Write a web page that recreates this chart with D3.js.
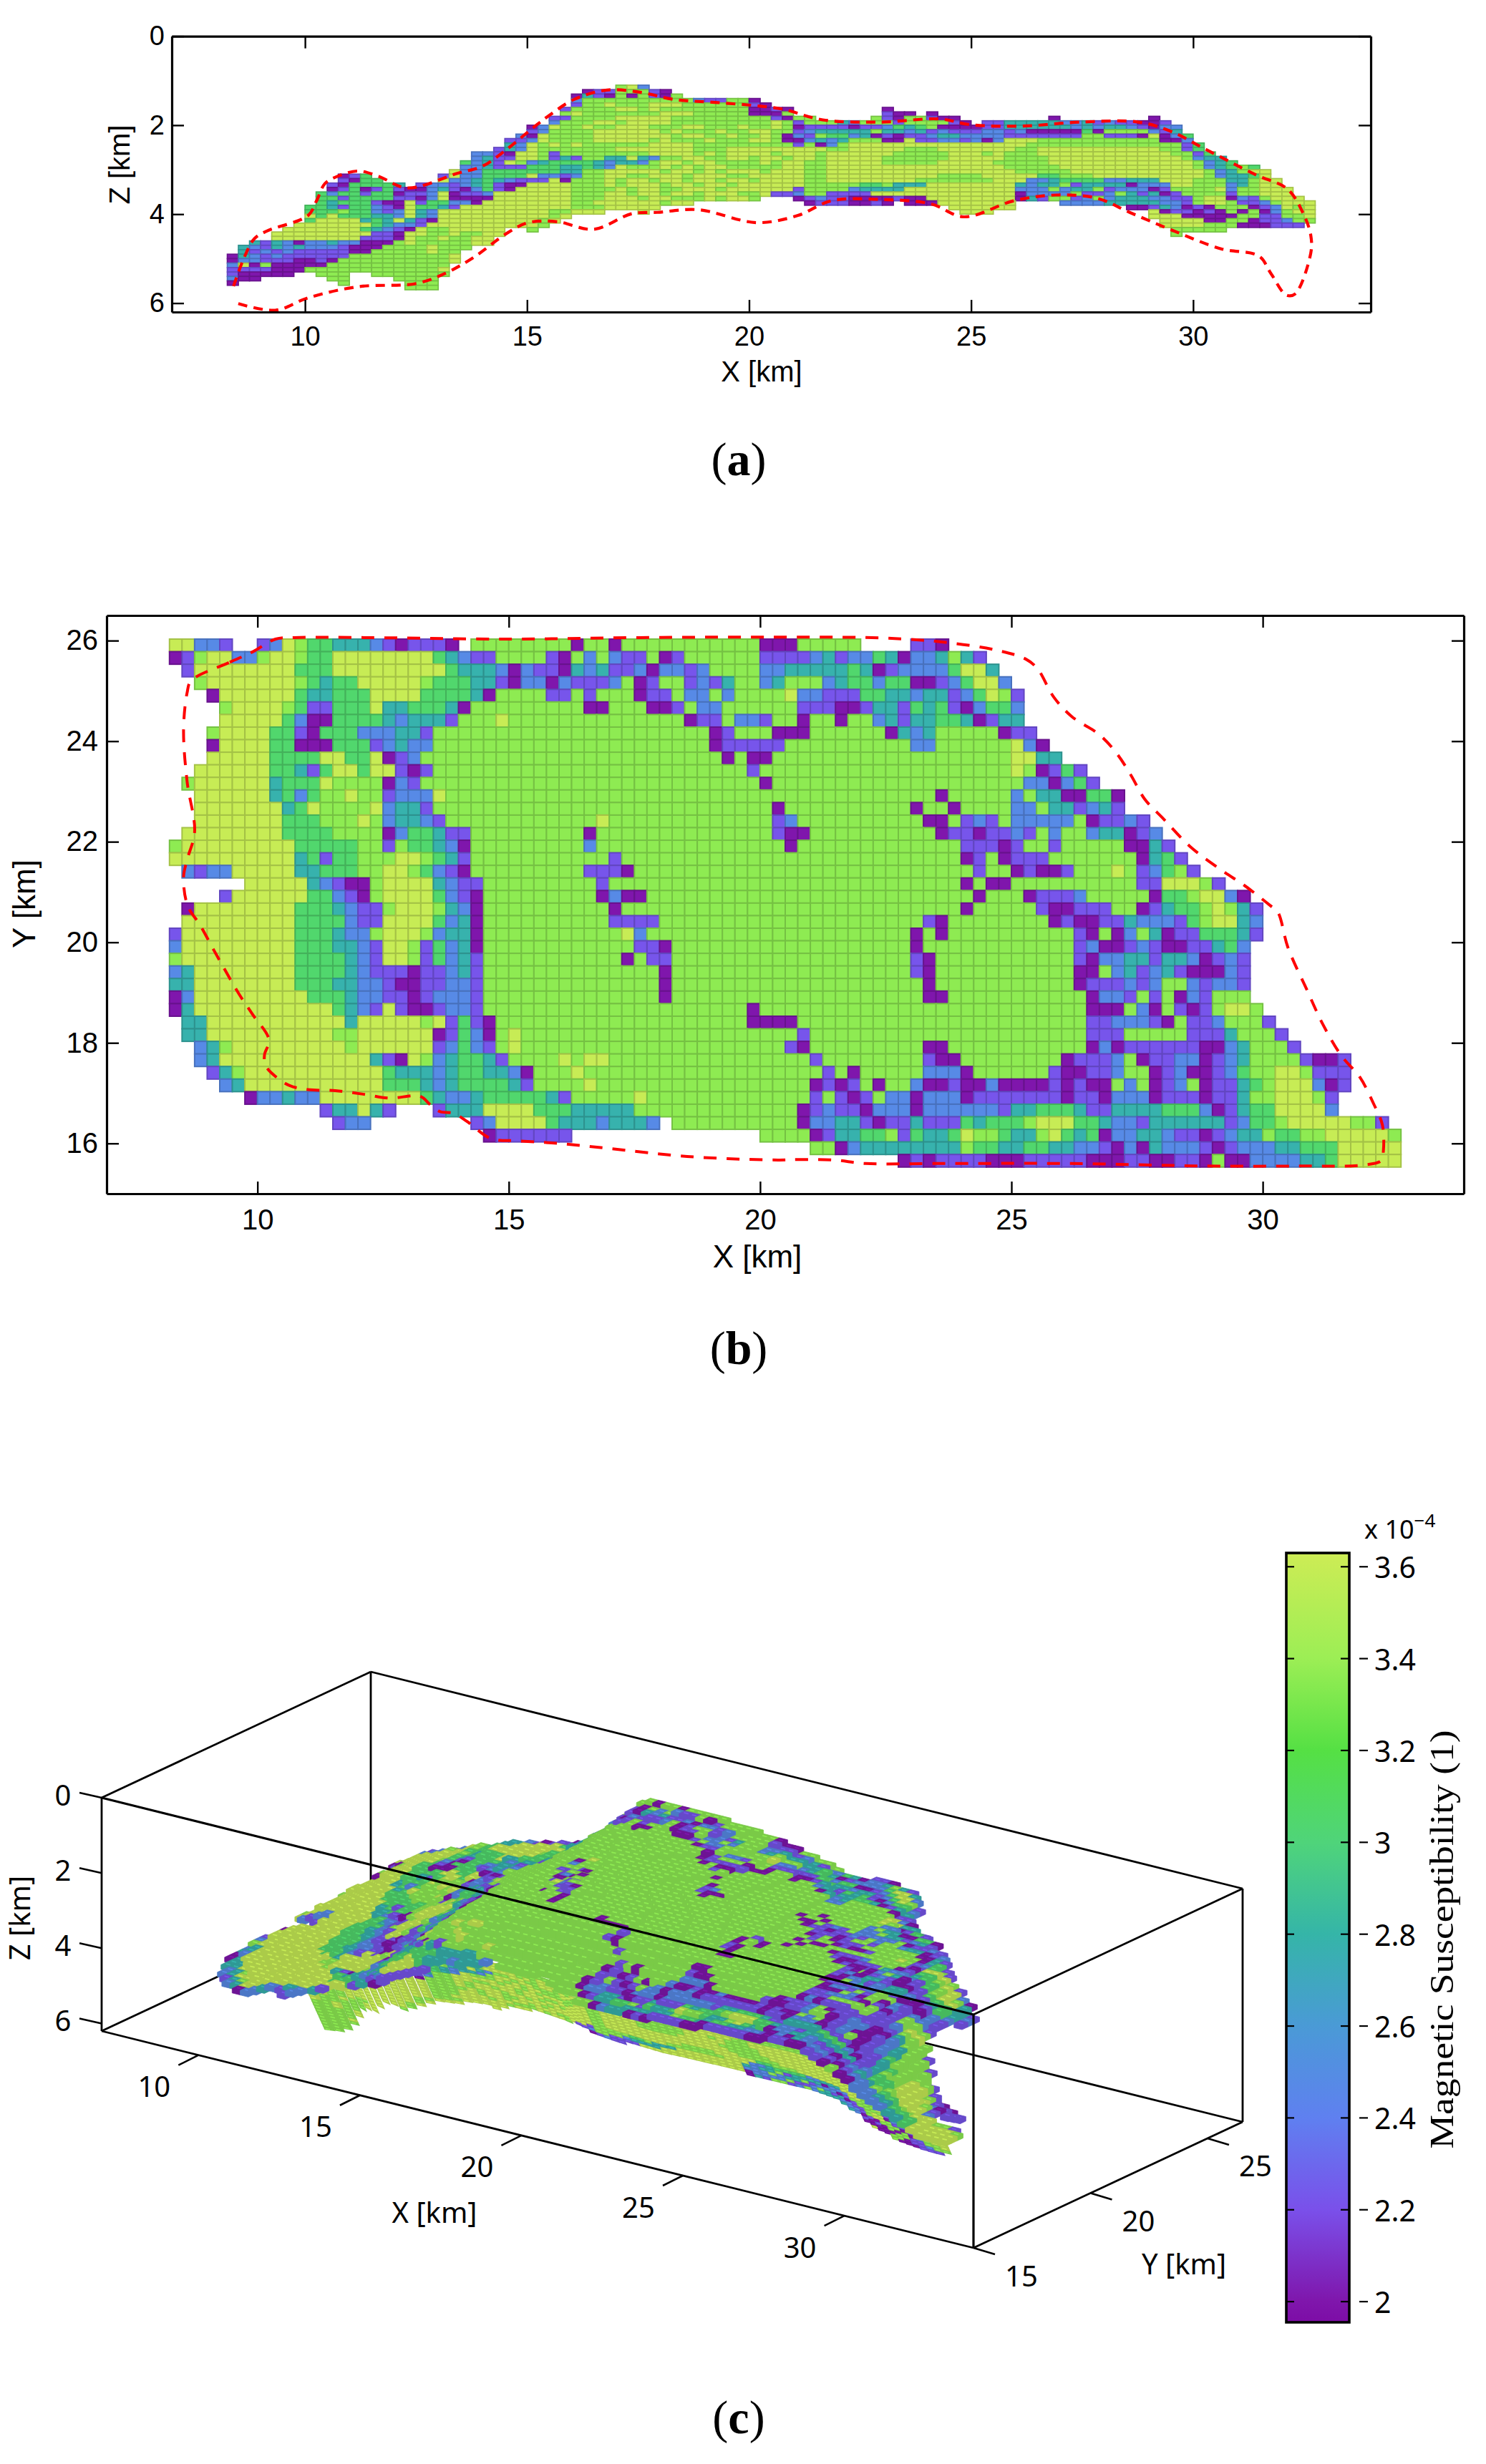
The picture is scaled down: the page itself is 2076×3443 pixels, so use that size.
<!DOCTYPE html>
<html><head><meta charset="utf-8">
<style>html,body{margin:0;padding:0;background:#fff}svg{display:block}</style>
<script src="https://cdn.jsdelivr.net/npm/d3@7"></script></head><body>
<div id="chart"></div>
<script>
// ---------- value levels ----------
const levelCodes  = ['p','v','b','t','m','g','y'];
const levelValues = [2.0,2.22,2.48,2.78,3.05,3.36,3.6];
const cbValues = [1.955,2,2.2,2.4,2.6,2.8,3,3.2,3.4,3.63];
const cbColors = ['#7d0ca6','#7f16ac','#7a50ea','#5f80f0','#4a9ad6','#35b5a8','#4fd47a','#55e044','#9cee55','#cdec55'];
const cbTicks = [2,2.2,2.4,2.6,2.8,3,3.2,3.4,3.6];
const xTicks = [10,15,20,25,30];
const zTicks = [0,2,4,6];
const yTicks = [16,18,20,22,24,26];
const cYTicks = [15,20,25];

// ---------- cross-section X-Z: one row per 0.1 km of depth from 1.1 km ----------
const sectionRows = [
"35:gyb",
"32:p2v3gvp",
"31:ptvpgpgvpg",
"31:b10gb2v2gp",
"31:v2gy3g3y6gvp",
"30:v4g2ygy8g2pvp 59:p",
"30:gy7g3y5g3pg 59:v2p.p",
"29:2v4g5y9gvp2g 58:gvp2gv2p 74:p 83:p",
"29:b3g2yg4y9gygv3gtb3gv4gvp.2v5t2btvb2v2pv",
"27:pby2gy2g3y3g2y3gy2gygp4vp2vbmtmg4p2v6tbtb2tbvp2b",
"27:vb4g6ygy3gy2g2y2gvb5tg2tbtvb3v2bvb5pmp4gbvt",
"26:bpy4g7yg2y2gy2gygpbvg2mbtpvp2vb2t4b7v2g3vpypbm",
"25:2vby4g5ygy3gy3g2yg2pbtbt3g2py2v2bvbpb3y11g2pb",
"25:tbygygy6g4y7g2gvgpbg16yg11g2gvm",
"24:vtby7g7y3g4y5y2g5y3g7y2g11y2gvm",
"22:2bvp2ygv8g4ygyg4yg3yg6y5g3ygy3g12y2gvm",
"22:bt2v2ygvtv2g2tytb2g2y2g2ygyyg2yg5y6g5y4g12ygb2t",
"21:mbtvygbt4mtb2tbg2yg2y4gyg2y2g5y5g5y5g13ygbtm",
"21:2bt3v3m2tmtby3gygyg2y5g2y2g16y5g12ygbtmgm",
"20:y2b7m2t2g5yg2ygyg3yg3y2g17y5g12ygbtg2y",
"10:pvm6.vy2b2m2my2bvb2g2y2g3yg3y2g2y3y2g10y4g5y2m3g10ygb2tmy",
"10:vp2m5.y2btmtb3vyp3gyg2yg2yg2yg2ygy3y2g8y7g3y2bt4m2b3t3y3g2tg2y",
"9:vp4mt.v2bvbtmv2p4y3gyg3yg2yg2yg3y3y5g2mg3t8ytb2tgv4tp3b2y3gbtg2y",
"9:pvmpvmv2pbtvpbmvp5y4gyg2y2gy2yg4y2yv4gb4t10y3bgb2tgv3bpv4gyb2g3y",
"8:mb2mv2mp2vbyp2vb7y3g2yg2yg2yg3y2gy2vb2g4v13yp4bg2vbgtvtpv4gv2g3y",
"8:2mv4m2vpby4p7y3g3yg2y2ggyg2yg3.pvb2v4pv2p8yptv2gvbgb3t2b2vg2ypbvg3y",
"8:mt3mv2pyv2m2bpy7y2g6yg2y10.p3v2pvp.3p7y4.4b5t2bvg2yg2vbg3y",
"7:2mtv2mbvpy2mtv3y 24:7y3g5y 65:6y 81:2pvtbpvp3gpvbygy",
"7:3mg2mbvbytb5y 24:5y2g 31:3y 37:y 66:3y 83:yp2vpvpgpgpbg2y",
"7:ymy3m2tbytb5y 24:5ygy 83:3y5p2g2v2gy",
"7:m4ytmtytvp5y 24:4ygy 84:4y2p2gp2vb2g",
"6:7ymt2bvy5y 24:4yg 84:4y3g3p3v",
"5:7ymtbvpy2g4y 24:y 27:g 85:5g",
"4:9y2vp2y2gy2g2y 85:g",
"4:8y3vpy2gy2g2y",
"2:tvtbp2bt2b3pgy5g2y",
"1:tbvtbt3bv3p4gy3g",
"1:tvbvb5v2p5gy2g",
"0:ptbvb6v9gy",
"0:p2b3v2pvp10gy",
"0:bypg5p11g",
"0:4v3p12gy",
"0:v5p2.3g2.7g",
"0:b2p 9:2g 15:4g",
"0:p 10:g 16:3g",
"16:3g"];

// ---------- plan view X-Y: one row per 0.25 km of Y from the north ----------
const planRows = [
"0:2y2bv 7:vbyg2m3tbvp3vp 24-54g 32:p 35:p 47:3p 59:2vp",
"0:pvg2y2bg2yg2m8ymtb2v 26-46g 30:vp 33:b 35:b2v 39:pv 47:4vbtv2bmtp2btgtv",
"1:v8y3m9ym3tbpb2vptbt2vbp2bvb4g2b5tmtpv4bm2yt",
"2:g7ygmt2m5yg3m2tvp2bpb3vbgpv2gvbvt2gbt3gbt2mb2m2pvbm2yb",
"3:p6ym2t3m4y4mtp4g2vgv3gp2vg2bgb4gy2b3v2m2tb2tvbmygv",
"4:g4ygm2v3my2t3mtp9g2p3g2pvg2b6g3v2pv2tvmtmvpb2mb",
"4:5ymb2p4mtb3tv3gy14gp2vg2bv2gp2gp2gbtv2t2mtpv2t",
"3:g4y2mvp3m3b2tv22gpv3g3p6gptbt5gp2v",
"3:p4y2m3p3mvbt2b22gp5v10g2b6gybp",
"3:5y4m2y2mypvb24gpg2p19g2y2t",
"2:6y2mtvm2ym2yvpv25gv20gygpvmv",
"1:g6yt3my4gpbv27gp20g2bpbmv",
"2:6ytmbm2gy2gv3by39gp5gbg2t2p2mp",
"2:7ytmy4gyb2tv27gp10gp2gp4g2bg2tvbtv",
"2:7y3m3gygb2tbv12gy13gvb10g2pgvbvg5bgp2vbv",
"1:8y4m4gpb2mt2v9gp14gv2p10gp2vp2vbvgb2gb2tpvb",
"0:g9y5m2gvg2mtbp9gb15gp13g3vpv2gv5g2ptv",
"0:10ytmv2m3g2ygmtv11gv27gpvgp3v7gptmv",
"1:bv2b5y2t3m2g2ygmbvp9g3vp27gv2gpv2pv3gygvbmgv",
"6:5ytbv2pg4ytb2v9gv28gpg2p10g2v3ygv",
"4:v6y2mbvpg4ymbvp9gpb2p26gp3gp3vb5gp2mg2ybp",
"1:p8y3mtb2vg3ygtbp10gp27gp5gv2p3v2gpvt2mgygtv",
"1:9y4mb2v4ymbtp10g4v21gvp8gpv2p2vt3bvmg2ytb",
"0:v9y3mt2bg3ygb2tp11gyb21gpgp10gvpgpbgtp2v3mtv",
"0:b9y3m2tbv2ygvmbtp12g2vp19gp12gvb2pvbv2p2vtmb",
"0:g9y4mtbv2ygvmbtv11gpg2v19gvp11gvp2b2tv2tbpvbv",
"0:bt8y4mtb3vp2vbtv14gp19gvp11g2pgbtvbtv3pbv",
"0:2t8y3m2t2bv2p2v2bv14gp20gp11gp3vbvb2gbv2bv",
"0:pb9y3mt2b2vpv3bv14gp20g2p11gp2bvgvgpbv3g",
"0:pt11ymtbvyv2pv2bv21gp26g3pgbpgvpvg2yg",
"1:2t11yt5ygyvmvp20g4p23g2v3bvpg2vb3gv",
"1:2t10y2g6ypvmbpgy22gv22g3v5g3vt3gv",
"2:btg9yg6yvbmbvgy21gvp9g2p11gpbp6v2pbt3gv",
"2:bt12ytvpygbt2mtv4gyg2y16gv8gv2p8gp3vbgp2v2bpvbt4gv2pv",
"3:vtg11ym3tbt2m2tbp3gy19gvgp5g3bp6gv2p2vb2gpvb2pvbm2g2yg3v",
"4:bt11y3mtbt4mtv4gy17gpvpvgp2gb2pv2pb4pvpv2pgbgpvbgp2vtmg3ybpv",
"6:p2bt2b8ymt2bt5mtv5gy13gvgvpvg2bp3bp7vp2vp3bp3vp2vt2g3ygv",
"12:v2tytv 21:v3t4y3m5t13gpvb2vp3bp3b3bv2t3mt2v4t3mbpvt2m4yb",
"13:v2b 24:vb4ym3tb3tb 40:10gp2b2tvp2vt3vmt3mg3y2mt2bv6tvb2mg5y2gv",
"25:p6v 47:4gpv2t2mgvm2tmy2gm2tgymtmp2b2tb2vpvb2tg2m2g5yg",
"51:2gpb8tg2m2t2m2t2bvpbpt3bvpv3b2t3m5y",
"58:pvp4v3p5v3p2v2p2vpg2p4b2tm5y"];

// ---------- dashed body outline ----------
const planOutlineX = [8.68,9.45,9.91,10.36,10.73,12.18,14.9,17.6,20.6,22.47,23.65,24.75,25.29,25.52,25.84,26.2,26.75,27.1,27.38,27.65,28.02,28.56,29.2,29.65,30.15,30.3,30.5,30.88,31.2,31.56,31.93,32.2,32.38,32.4,32.36,32.0,30.75,28.93,26.2,23.47,22.1,21.47,20.75,20.36,18.55,17,16,15.18,14.64,14.18,13.9,13.64,13.45,13.23,12.63,12.1,11.55,11,10.64,10.36,10.16,10.14,10.23,9.9,9.64,9.36,9.14,8.86,8.61,8.53,8.6,8.75,8.6,8.53,8.6];
const planOutlineY = [25.2,25.57,25.78,26.03,26.06,26.06,26.03,26.06,26.07,26.05,25.97,25.8,25.63,25.44,24.88,24.49,24.13,23.75,23.32,22.85,22.46,21.9,21.42,21.12,20.73,20.6,19.9,19.05,18.36,17.75,17.32,16.8,16.37,15.85,15.66,15.57,15.55,15.55,15.6,15.6,15.6,15.67,15.68,15.67,15.74,15.9,16,16.05,16.1,16.43,16.6,16.63,16.76,16.94,16.9,16.98,17.05,17.07,17.15,17.33,17.55,17.76,18.06,18.57,18.96,19.44,19.83,20.34,20.73,21.3,21.64,22.2,23.2,24.23,24.96];
const sectionOutlineX = [8.39,8.62,8.86,9.14,10.07,10.26,10.45,10.73,11.2,11.66,12.3,13.44,14,14.56,15.12,15.5,16.06,16.8,17.55,18.3,19.4,20.7,21.66,22.97,24.28,25,26.15,27.46,28.77,29.5,30.26,31.4,32.13,32.5,32.65,32.65,32.3,32.1,31.75,31.48,30.63,29.5,28.57,27.83,26.9,25.96,24.84,24.1,22.97,21.85,21.1,20.17,18.86,17.93,17.36,16.5,15.68,15.03,14.56,13.8,13.16,12.5,11.2,10.07,9.33,8.39];
const sectionOutlineZ = [5.62,5.0,4.55,4.38,4.03,3.7,3.31,3.15,3.03,3.15,3.41,3.08,2.92,2.53,2.07,1.78,1.42,1.21,1.26,1.42,1.5,1.63,1.88,1.93,1.86,1.99,2.02,1.93,1.93,2.14,2.53,3.11,3.44,4.03,4.48,4.87,5.79,5.82,5.33,4.94,4.78,4.35,3.96,3.64,3.57,3.7,4.06,3.77,3.67,3.7,4.03,4.19,3.9,3.96,3.99,4.34,4.17,4.19,4.42,4.97,5.33,5.56,5.63,5.88,6.16,5.98];

// ---------- top-surface depth of the body for the 3-D view ----------
const depthX = [8,10,12,13,14,15,16,18,20,22,24,26,28,29,30,31,32];
const depthY = [26,24,22,20,18,17,16];
const depth26 = [4.7,3.9,3.3,3.1,2.9,2.2,1.3,1.3,1.5,1.9,1.9,2.0,2.0,2.0,2.2,2.8,3.3];
const depth24 = [4.8,3.8,3.4,3.2,3.0,2.4,1.7,1.5,1.6,1.8,1.9,2.0,1.9,2.0,2.2,2.8,3.3];
const depth22 = [4.9,4.1,3.8,3.4,3.0,2.5,1.8,1.6,1.7,1.8,1.9,1.9,1.9,2.1,2.5,3.0,3.4];
const depth20 = [5.0,4.5,3.95,3.6,3.2,2.6,1.8,1.4,1.5,1.7,1.9,1.9,1.8,2.1,2.7,3.2,3.6];
const depth18 = [5.1,4.9,4.2,4.1,3.6,2.8,2.0,1.6,1.5,1.6,1.8,1.9,1.9,2.3,2.9,3.8,4.2];
const depth17 = [5.2,5.0,4.4,4.2,3.8,3.0,2.4,2.1,2.1,2.3,2.1,2.1,2.1,2.5,3.1,3.6,3.9];
const depth16 = [5.3,5.1,4.5,4.3,3.95,3.4,3.0,2.6,2.5,2.6,2.4,2.3,2.2,2.5,3.0,3.5,3.8];
// deepest part of the near side that is still visible in the 3-D view
const wallLimitX = [12,16,18,20,22,24,26,28,29,30,31,33];
const wallLimitZ = [5.8,4.4,3.9,3.7,3.6,3.55,3.6,3.65,3.7,4.1,4.3,4.3];
const wallFirstCol = 16;

// ---------- helpers ----------
function parseGrid(rows){
  const out=[];
  rows.forEach((line,r)=>{
    const m=new Map();
    line.trim().split(/\s+/).forEach(tok=>{
      const range=tok.match(/^(\d+)-(\d+)([a-z])$/);
      if(range){for(let c=+range[1];c<=+range[2];c++)m.set(c,range[3]);return;}
      const [s,body]=tok.split(':');
      if(body===undefined) return;
      let c=+s;
      for(const g of body.matchAll(/(\d*)([a-z.])/g)){
        const n=g[1]?+g[1]:1;
        for(let i=0;i<n;i++){ if(g[2]!=='.')m.set(c,g[2]); c++; }
      }
    });
    m.forEach((code,c)=>{ if(c<98) out.push({r,c,code}); });
  });
  return out;
}
const levelScale=d3.scaleOrdinal(levelCodes,levelValues);
const colorScale=d3.scaleLinear(cbValues,cbColors).interpolate(d3.interpolateRgb);
const colorOf=d=>colorScale(levelScale(d.code));
const colLeft=c=>8.25+0.25*c;

const W=2076,H=3443;
const svg=d3.select('#chart').append('svg').attr('width',W).attr('height',H).attr('viewBox',`0 0 ${W} ${H}`)
  .style('background','#fff');
const SANS='"Liberation Sans",Arial,sans-serif', NOTO='"Noto Sans",sans-serif', SERIF='"Liberation Serif",serif';

function frame(g,x,y,xv,yv,opt){
  const [L,R]=x.range(),[B,T]=y.range();
  const a=[
    ['b',d3.axisBottom(x).tickValues(xv).tickFormat(d3.format('d')).tickSizeInner(-opt.tick).tickSizeOuter(0).tickPadding(opt.padX),`translate(0,${B})`],
    ['t',d3.axisTop(x).tickValues(xv).tickSizeInner(-opt.tick).tickSizeOuter(0).tickFormat(''),`translate(0,${T})`],
    ['l',d3.axisLeft(y).tickValues(yv).tickFormat(d3.format('d')).tickSizeInner(-opt.tick).tickSizeOuter(0).tickPadding(opt.padY),`translate(${L},0)`],
    ['r',d3.axisRight(y).tickValues(yv).tickSizeInner(-opt.tick).tickSizeOuter(0).tickFormat(''),`translate(${R},0)`]];
  a.forEach(([k,ax,t])=>{
    const s=g.append('g').attr('transform',t).call(ax);
    s.selectAll('path').attr('stroke','#000').attr('stroke-width',3.2);
    s.selectAll('line').attr('stroke','#000').attr('stroke-width',2.4);
    s.selectAll('text').attr('font-family',SANS).attr('font-size',opt.font).attr('fill','#000');
  });
}
function axisTitle(x,y,txt,font,size,rot){
  const t=svg.append('text').attr('text-anchor','middle').attr('font-family',font).attr('font-size',size)
    .attr('dominant-baseline','middle').text(txt);
  t.attr('transform',`translate(${x},${y})`+(rot?` rotate(${rot})`:''));
  return t;
}
function caption(letter,y){
  const t=svg.append('text').attr('x',1032).attr('y',y).attr('text-anchor','middle').attr('font-family',SERIF).attr('font-size',66);
  t.append('tspan').text('(');
  t.append('tspan').attr('font-weight','bold').text(letter);
  t.append('tspan').text(')');
}
const dark=(c,k)=>d3.color(c).darker(k).formatHex();

// ---------- panel (a) ----------
const secCells=parseGrid(sectionRows);
const ax=d3.scaleLinear([7,34],[240,1915]);
const az=d3.scaleLinear([6.2,0],[436,50.6]);
const ga=svg.append('g');
ga.append('g').selectAll('rect').data(secCells).join('rect')
  .attr('x',d=>ax(colLeft(d.c))).attr('width',ax(7.25)-ax(7))
  .attr('y',d=>az(1.1+0.1*d.r)).attr('height',az(0.1)-az(0))
  .attr('fill',colorOf).attr('stroke',d=>dark(colorOf(d),0.55)).attr('stroke-width',1.7);
ga.append('path').datum(d3.range(sectionOutlineX.length))
  .attr('d',d3.line().x(i=>ax(sectionOutlineX[i])).y(i=>az(sectionOutlineZ[i])).curve(d3.curveCatmullRom))
  .attr('fill','none').attr('stroke','#ff0000').attr('stroke-width',4.2).attr('stroke-dasharray','13 9');
frame(ga,ax,d3.scaleLinear([6.2,0],[436,50.6]),xTicks,zTicks,{tick:17,padX:20,padY:10,font:38});
axisTitle(1064,522,'X [km]',SANS,40);
axisTitle(170,230,'Z [km]',SANS,40,-90);
caption('a',664);

// ---------- panel (b) ----------
const planCells=parseGrid(planRows);
const bx=d3.scaleLinear([7,34],[149,2045]);
const by=d3.scaleLinear([15,26.5],[1668,860]);
const gb=svg.append('g');
gb.append('g').selectAll('rect').data(planCells).join('rect')
  .attr('x',d=>bx(colLeft(d.c))).attr('width',bx(7.25)-bx(7))
  .attr('y',d=>by(26.03-0.25*d.r)).attr('height',by(0)-by(0.25))
  .attr('fill',colorOf).attr('stroke',d=>dark(colorOf(d),0.55)).attr('stroke-width',2);
gb.append('path').datum(d3.range(planOutlineX.length))
  .attr('d',d3.line().x(i=>bx(planOutlineX[i])).y(i=>by(planOutlineY[i])).curve(d3.curveCatmullRomClosed))
  .attr('fill','none').attr('stroke','#ff0000').attr('stroke-width',4).attr('stroke-dasharray','18 14');
frame(gb,bx,by,xTicks,yTicks,{tick:17,padX:22,padY:12,font:40});
axisTitle(1058,1759,'X [km]',SANS,44);
axisTitle(37,1263,'Y [km]',SANS,44,-90);
caption('b',1906);

// ---------- panel (c): oblique box ----------
const pxX=d3.scaleLinear([7,34],[142,1360]), pxY=d3.scaleLinear([15,26.5],[0,376]);
const pyX=d3.scaleLinear([7,34],[2512,2815]), pyY=d3.scaleLinear([15,26.5],[0,-176]), pyZ=d3.scaleLinear([0,6.2],[0,326]);
const proj=(X,Y,Z)=>[pxX(X)+pxY(Y),pyX(X)+pyY(Y)+pyZ(Z)];
const gc=svg.append('g');
const edge=(p,q,w)=>gc.append('line').attr('x1',p[0]).attr('y1',p[1]).attr('x2',q[0]).attr('y2',q[1])
  .attr('stroke','#000').attr('stroke-width',w||2.8);
const [X0,X1,Y0,Y1,Z0,Z1]=[7,34,15,26.5,0,6.2];
// edges behind the body
edge(proj(X0,Y0,Z0),proj(X0,Y1,Z0));
edge(proj(X0,Y1,Z0),proj(X1,Y1,Z0));
edge(proj(X0,Y1,Z0),proj(X0,Y1,Z1));
edge(proj(X0,Y0,Z1),proj(X0,Y1,Z1));
edge(proj(X0,Y1,Z1),proj(X1,Y1,Z1));
edge(proj(X1,Y1,Z0),proj(X1,Y1,Z1));
edge(proj(X1,Y0,Z1),proj(X1,Y1,Z1));
edge(proj(X1,Y0,Z0),proj(X1,Y1,Z0));
edge(proj(X0,Y0,Z0),proj(X0,Y0,Z1));
edge(proj(X0,Y0,Z1),proj(X1,Y0,Z1));

const depthTable=[depth26,depth24,depth22,depth20,depth18,depth17,depth16];
const depthRows=depthTable.map(row=>d3.scaleLinear(depthX,row).clamp(true));
function depthAt(X,Y){
  const col=depthRows.map(s=>s(X));
  return d3.scaleLinear(depthY,col).clamp(true)(Y);
}
const poly=pts=>pts.map(p=>p.map(v=>v.toFixed(1)).join(',')).join(' ');
const quant=z=>Math.round(z*10)/10;
const wallLimit=d3.scaleLinear(wallLimitX,wallLimitZ).clamp(true);

// near side: section cells below the surface rim, following the plan's near edge
const frontRow=d3.rollup(planCells,v=>d3.max(v,d=>d.r),d=>d.c);
const frontY=c=>d3.mean(d3.range(c-3,c+4).filter(k=>frontRow.has(k)),k=>26.03-0.25*frontRow.get(k)-0.25);
const wallSlope=0.6;
const wallCells=secCells.map(d=>{
  if(!frontRow.has(d.c)||d.c<wallFirstCol) return null;
  const Xl=colLeft(d.c), Yf=frontY(d.c), Yg=frontY(d.c+1);
  const rim=depthAt(Xl+.125,Yf+.125), z=1.1+0.1*d.r;
  if(z<rim||z>wallLimit(Xl)) return null;
  return {...d,Xl,z,Yw:Yf+wallSlope*(z-rim),Yn:Yf+wallSlope*(z+.1-rim),dY:Yg-Yf};
}).filter(Boolean).sort((a,b)=>d3.ascending(a.c,b.c)||d3.descending(a.r,b.r));
const gw=gc.append('g');
gw.selectAll('polygon').data(wallCells).join('polygon')
  .attr('points',d=>poly([proj(d.Xl,d.Yw,d.z),proj(d.Xl+.25,d.Yw+d.dY,d.z),proj(d.Xl+.25,d.Yn+d.dY,d.z+.1),proj(d.Xl,d.Yn,d.z+.1)]))
  .attr('fill',d=>dark(colorOf(d),0.42)).attr('stroke',d=>dark(colorOf(d),0.42)).attr('stroke-width',1.6);
gw.selectAll('line').data(wallCells).join('line')
  .attr('x1',d=>proj(d.Xl+.06,d.Yw,d.z+.05)[0]).attr('y1',d=>proj(d.Xl+.06,d.Yw,d.z+.05)[1])
  .attr('x2',d=>proj(d.Xl+.2,d.Yw,d.z+.05)[0]).attr('y2',d=>proj(d.Xl+.2,d.Yw,d.z+.05)[1])
  .attr('stroke',colorOf).attr('stroke-width',1.6);

// top surface, far rows first; each block reaches down to its lowest neighbour
const surf=planCells.map(d=>{
  const Xl=colLeft(d.c),Yt=26.03-.25*d.r,Yb=Yt-.25;
  return {...d,Xl,Yt,Yb,Z:quant(depthAt(Xl+.125,Yb+.125))};
}).sort((a,b)=>d3.ascending(a.r,b.r)||d3.ascending(a.c,b.c));
const zIndex=new Map(surf.map(d=>[d.r*1000+d.c,d.Z]));
surf.forEach(d=>{
  const around=[d.r*1000+d.c-1,d.r*1000+d.c+1,(d.r+1)*1000+d.c].map(k=>zIndex.get(k)).filter(v=>v!==undefined);
  d.Zb=Math.max(d.Z+.12,...around);
  const A=proj(d.Xl,d.Yt,d.Z),B=proj(d.Xl+.25,d.Yt,d.Z),C=proj(d.Xl+.25,d.Yb,d.Z),E=proj(d.Xl,d.Yb,d.Z);
  const lo=[proj(d.Xl,d.Yt,d.Zb),proj(d.Xl+.25,d.Yt,d.Zb),proj(d.Xl+.25,d.Yb,d.Zb),proj(d.Xl,d.Yb,d.Zb)];
  d.hull=d3.polygonHull([A,B,C,E,...lo]);
});
const gs=gc.append('g');
const blocks=gs.selectAll('g').data(surf).join('g');
blocks.append('polygon')
  .attr('points',d=>poly(d.hull))
  .attr('fill',d=>dark(colorOf(d),0.42)).attr('stroke',d=>dark(colorOf(d),0.42)).attr('stroke-width',.8);
blocks.append('line')
  .attr('x1',d=>proj(d.Xl+.06,(d.Yt+d.Yb)/2,d.Z)[0]).attr('y1',d=>proj(d.Xl+.06,(d.Yt+d.Yb)/2,d.Z)[1])
  .attr('x2',d=>proj(d.Xl+.2,(d.Yt+d.Yb)/2,d.Z)[0]).attr('y2',d=>proj(d.Xl+.2,(d.Yt+d.Yb)/2,d.Z)[1])
  .attr('stroke',colorOf).attr('stroke-width',1.8);

// edges in front of the body
edge(proj(X0,Y0,Z0),proj(X1,Y0,Z0),3.2);
edge(proj(X1,Y0,Z0),proj(X1,Y0,Z1),3.2);

// 3-D ticks
const tickGroup=(vals,pt,dx,dy,lx,ly)=>{
  const s=gc.append('g').selectAll('g').data(vals).join('g');
  s.append('line').attr('x1',d=>pt(d)[0]).attr('y1',d=>pt(d)[1]).attr('x2',d=>pt(d)[0]+dx).attr('y2',d=>pt(d)[1]+dy)
    .attr('stroke','#000').attr('stroke-width',2.6);
  s.append('text').attr('x',d=>pt(d)[0]+lx).attr('y',d=>pt(d)[1]+ly).attr('text-anchor','middle').attr('dominant-baseline','central')
    .attr('font-family',NOTO).attr('font-size',40).text(d=>d);
};
tickGroup(xTicks,d=>proj(d,Y0,Z1),-28,14,-62,43);
tickGroup(cYTicks,d=>proj(X1,d,Z1),30,9,67,38);
tickGroup(zTicks,d=>proj(X0,Y0,d),-31,-7,-54,-5);
axisTitle(607,3095,'X [km]',NOTO,40);
axisTitle(1654,3167,'Y [km]',NOTO,40);
axisTitle(31,2680,'Z [km]',NOTO,40,-90);
caption('c',3400);

// ---------- colour bar ----------
const cb=svg.append('g');
const cbY=d3.scaleLinear([1.955,3.63],[3245,2170]);
const grad=svg.append('defs').append('linearGradient').attr('id','cbg').attr('x1',0).attr('x2',0).attr('y1',1).attr('y2',0);
grad.selectAll('stop').data(cbValues).join('stop')
  .attr('offset',d=>(d-1.955)/(3.63-1.955)).attr('stop-color',(d,i)=>cbColors[i]);
cb.append('rect').attr('x',1797).attr('y',2170).attr('width',88).attr('height',1075)
  .attr('fill','url(#cbg)').attr('stroke','#000').attr('stroke-width',3.6);
const cbT=cb.append('g').selectAll('g').data(cbTicks).join('g');
const line=(x1,x2)=>cbT.append('line').attr('x1',x1).attr('x2',x2).attr('y1',d=>cbY(d)).attr('y2',d=>cbY(d)).attr('stroke','#000').attr('stroke-width',2.2);
line(1797,1808);line(1873,1885);line(1899,1911);
cbT.append('text').attr('x',1920).attr('y',d=>cbY(d)).attr('dominant-baseline','central').attr('font-family',NOTO).attr('font-size',41).text(d=>d);
const ex=svg.append('text').attr('x',1906).attr('y',2150).attr('font-family',NOTO).attr('font-size',36);
ex.append('tspan').text('x 10');
ex.append('tspan').attr('dy',-16).attr('font-size',26).text('−4');
axisTitle(2019,2710,'Magnetic Susceptibility (1)',SERIF,46,-90).attr('textLength',585).attr('lengthAdjust','spacingAndGlyphs');
</script></body></html>
